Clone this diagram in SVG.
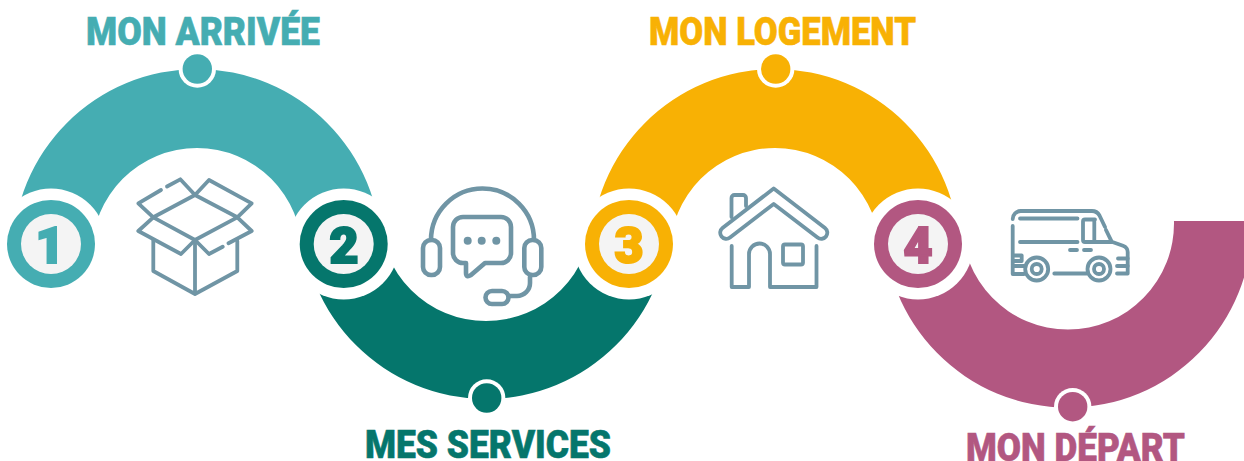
<svg xmlns="http://www.w3.org/2000/svg" width="1244" height="461" viewBox="0 0 1244 461">
<style>
.t{font-family:"Roboto","Liberation Sans",sans-serif;font-weight:900}
.l{font-size:38px;stroke-width:.6px}
.n{font-size:50px;text-anchor:middle;stroke-width:2.2px}
.i{fill:none;stroke:#7095a5;stroke-width:3.8;stroke-linecap:round;stroke-linejoin:round}
.h{fill:#fff}
.p{fill:#f4f4f4}
.a{fill:#45adb2}.b{fill:#05766c}.c{fill:#f8b104}.d{fill:#b25781}
text.a{stroke:#45adb2}text.b{stroke:#05766c}text.c{stroke:#f8b104}text.d{stroke:#b25781}
</style>
<rect width="1244" height="461" fill="#fff"/>
<g id="connectors">
<path class="a" d="M13 253A184 184 0 0 1 381 253H302A105 105 0 0 0 92 253Z"/>
<path class="b" d="M302 215A184 184 0 0 0 670 215H592A106 106 0 0 1 380 215Z"/>
<path class="c" d="M591 253A184 184 0 0 1 959 253H880A105 105 0 0 0 670 253Z"/>
<path class="d" d="M884.020 221A184 184 0 1 0 1251.980 221H1173.970A106 106 0 1 1 962.030 221Z"/>
</g>
<g id="step-1">
<circle class="h" cx="51" cy="244" r="55.5"/><circle class="a" cx="51" cy="244" r="44"/><circle class="p" cx="51" cy="244" r="30"/>
<text class="t n a" x="50" y="263">1</text>
<circle class="h" cx="197.3" cy="69" r="18.7"/><circle class="a" cx="197.3" cy="69" r="14.7"/>
<text class="t l a" x="86" y="45" textLength="234" lengthAdjust="spacingAndGlyphs">MON ARRIVÉE</text>
<g class="i">
<path d="M153.3 217.3L195 240L237.3 217.3L195 195Z"/>
<path d="M195 195L180.3 179.3L167 186.5M161 190L138.3 203.3L153.3 217.3"/>
<path d="M195 195L209 180L251.7 203.3L237.3 217.3"/>
<path d="M153.3 217.3L138.3 231L181 254L195 240"/>
<path d="M237.3 217.3L251.7 231L228.5 243.3M222.7 246.7L209 254L195 240"/>
<path d="M153.3 240V271L195 294L237.3 271V241M195 240V294"/>
</g>
</g>
<g id="step-2">
<circle class="h" cx="343.7" cy="244" r="55.5"/><circle class="b" cx="343.7" cy="244" r="44"/><circle class="p" cx="343.7" cy="244" r="30"/>
<text class="t n b" x="344" y="262.500">2</text>
<circle class="h" cx="486.7" cy="398" r="18.7"/><circle class="b" cx="486.7" cy="398" r="14.7"/>
<text class="t l b" x="365" y="457.7" textLength="246" lengthAdjust="spacingAndGlyphs">MES SERVICES</text>
<g class="i" style="stroke-width:4.6">
<path d="M431 240A51.5 51.5 0 0 1 534 240"/>
<rect x="423" y="240" width="17" height="35" rx="8"/>
<rect x="524.3" y="240" width="17" height="35" rx="8"/>
<path d="M463 217H501A10 10 0 0 1 511 227V253A10 10 0 0 1 501 263H485L471 275Q466 278 466 273V263H463A10 10 0 0 1 453 253V227A10 10 0 0 1 463 217Z"/>
<path d="M530 277V283A13 13 0 0 1 517 296H508.500"/>
<rect x="485.500" y="291" width="23" height="13" rx="6.500"/>
</g>
<circle cx="467.7" cy="240.7" r="4" fill="#7095a5"/><circle cx="481.7" cy="240.7" r="4" fill="#7095a5"/><circle cx="496.300" cy="240.7" r="4" fill="#7095a5"/>
</g>
<g id="step-3">
<circle class="h" cx="629" cy="244" r="55.5"/><circle class="c" cx="629" cy="244" r="44"/><circle class="p" cx="629" cy="244" r="30"/>
<text class="t n c" x="629" y="262.500">3</text>
<circle class="h" cx="775.7" cy="69" r="18.7"/><circle class="c" cx="775.7" cy="69" r="14.7"/>
<text class="t l c" x="649" y="45" textLength="267" lengthAdjust="spacingAndGlyphs">MON LOGEMENT</text>
<g class="i">
<path d="M773.7 188.500L825 228A6 6 0 0 1 817.500 237.500L773.7 204L730 237.500A6 6 0 0 1 722.500 228Z"/>
<path d="M731.500 217V198A3 3 0 0 1 734.500 195H743A3 3 0 0 1 746 198V206"/>
<path d="M731.7 246V287H749V254A10.500 10.500 0 0 1 770 254V287H816.500V246"/>
<rect x="783" y="244.500" width="20" height="20" rx="2"/>
</g>
</g>
<g id="step-4">
<circle class="h" cx="918" cy="244" r="55.5"/><circle class="d" cx="918" cy="244" r="44"/><circle class="p" cx="918" cy="244" r="30"/>
<text class="t n d" x="918" y="262.500">4</text>
<circle class="h" cx="1072.7" cy="406.7" r="18.7"/><circle class="d" cx="1072.7" cy="406.7" r="14.7"/>
<text class="t l d" x="966" y="460.500" textLength="219" lengthAdjust="spacingAndGlyphs">MON DÉPART</text>
<g class="i">
<path d="M1012.7 219A8 8 0 0 1 1020.7 211H1092Q1097 211 1099.500 215.500L1105 227"/>
<path d="M1012.7 226V274H1024"/>
<path d="M1020 218.500H1077.500M1020 242H1077.500"/>
<path d="M1095 219.500H1085Q1083 219.500 1083 221.500V240Q1083 242 1085 242H1111.700M1094.300 219.500V242"/>
<path d="M1106 230L1111.700 241.700L1123 245.700Q1127.700 247.500 1127.700 252V273.500H1117"/>
<path d="M1070 250H1077M1084 250H1091"/>
<path d="M1013 255.500H1021.700V261H1013M1013 266H1024M1054.300 273.500H1086.700M1118 258.500H1127.700M1117 266H1127.700"/>
<circle cx="1036.7" cy="269" r="11.500"/><circle cx="1036.700" cy="269" r="5"/>
<circle cx="1099" cy="269" r="11.500"/><circle cx="1099" cy="269" r="5"/>
</g>
</g>
</svg>
